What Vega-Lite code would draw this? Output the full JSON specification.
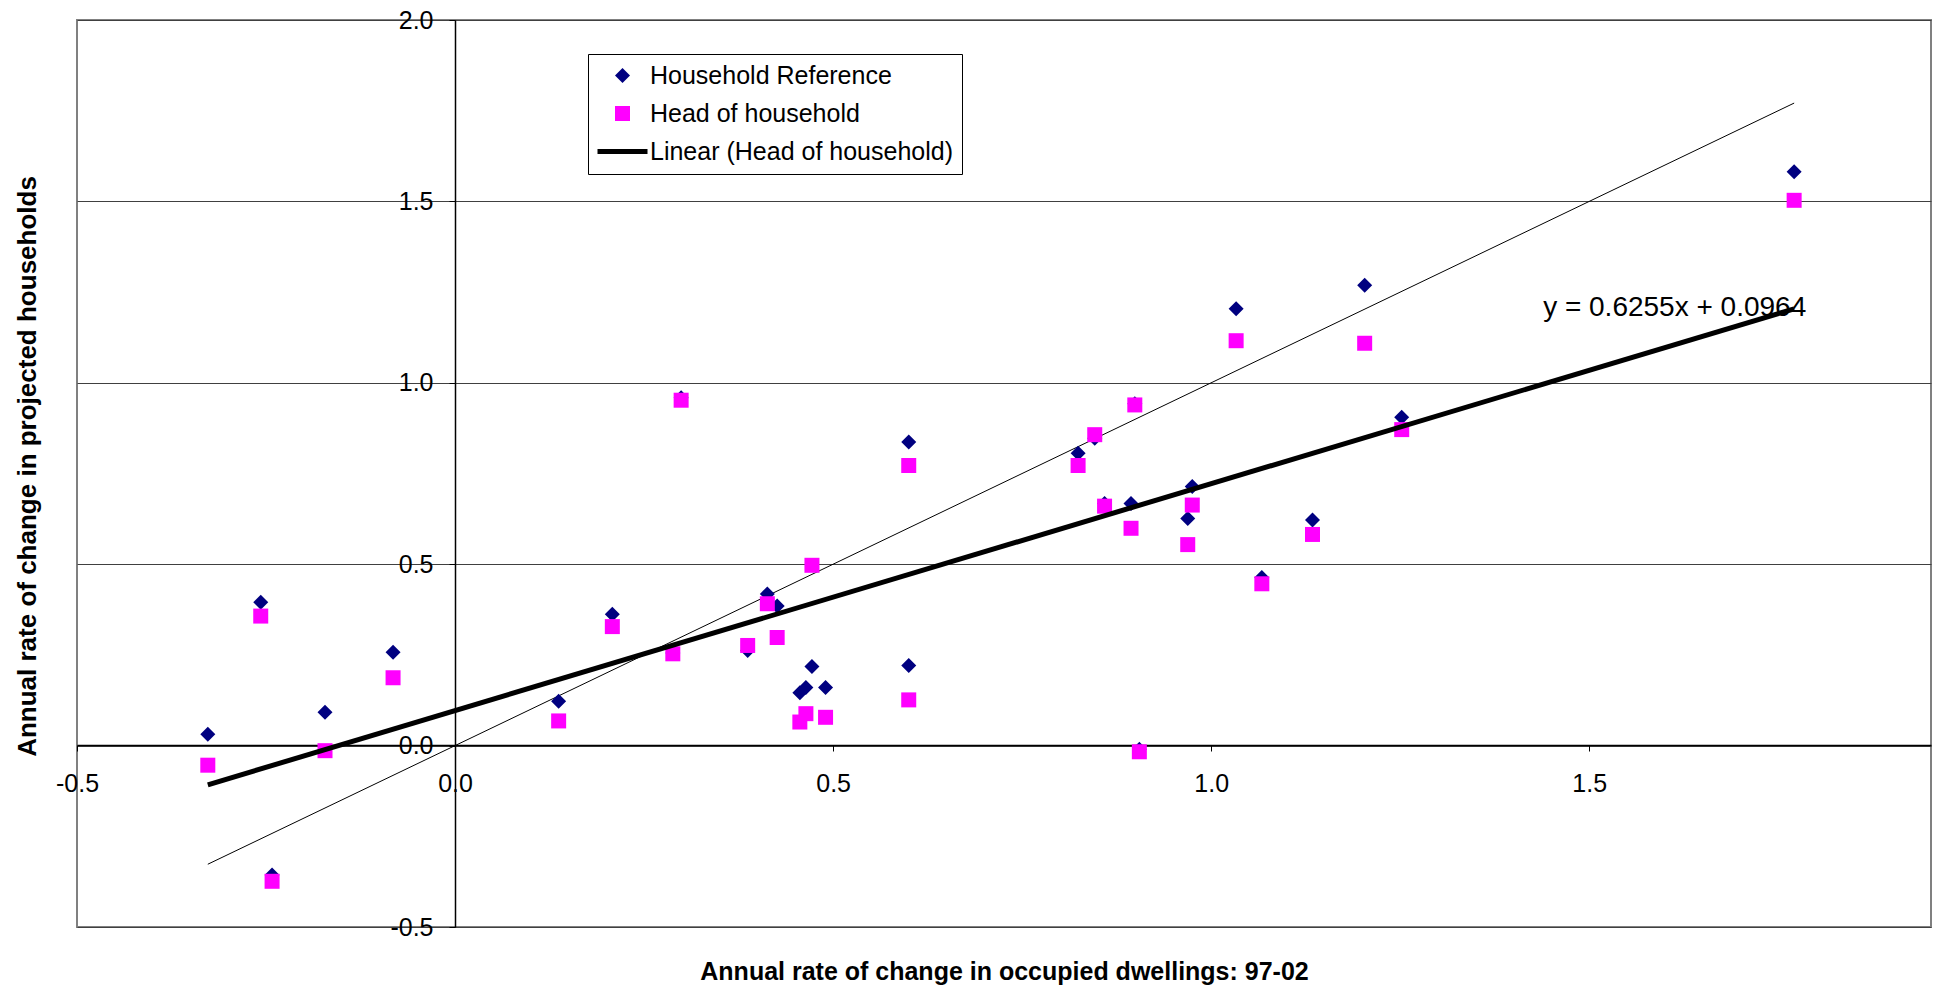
{
  "$schema": "https://vega.github.io/schema/vega-lite/v6.json",
  "width": 1854,
  "height": 907,
  "autosize": {"type": "none"},
  "padding": {"left": 77, "top": 20, "right": 8, "bottom": 62},
  "background": "white",
  "config": {
    "font": "Liberation Sans",
    "locale": {"number": {"decimal": ".", "thousands": ",", "grouping": [3], "currency": ["$", ""], "minus": "-"}},
    "view": {"stroke": "#808080", "strokeWidth": 2},
    "axis": {
      "labelFont": "Liberation Sans",
      "titleFont": "Liberation Sans",
      "labelColor": "black",
      "titleColor": "black",
      "domainColor": "black",
      "tickColor": "black"
    }
  },
  "datasets": {
    "points": [
      {"x": -0.327, "y": 0.031, "series": "Household Reference"},
      {"x": -0.257, "y": 0.395, "series": "Household Reference"},
      {"x": -0.242, "y": -0.357, "series": "Household Reference"},
      {"x": -0.172, "y": 0.092, "series": "Household Reference"},
      {"x": -0.082, "y": 0.257, "series": "Household Reference"},
      {"x": 0.137, "y": 0.122, "series": "Household Reference"},
      {"x": 0.208, "y": 0.362, "series": "Household Reference"},
      {"x": 0.288, "y": 0.255, "series": "Household Reference"},
      {"x": 0.299, "y": 0.959, "series": "Household Reference"},
      {"x": 0.387, "y": 0.262, "series": "Household Reference"},
      {"x": 0.413, "y": 0.418, "series": "Household Reference"},
      {"x": 0.426, "y": 0.385, "series": "Household Reference"},
      {"x": 0.456, "y": 0.146, "series": "Household Reference"},
      {"x": 0.464, "y": 0.160, "series": "Household Reference"},
      {"x": 0.472, "y": 0.218, "series": "Household Reference"},
      {"x": 0.490, "y": 0.160, "series": "Household Reference"},
      {"x": 0.600, "y": 0.837, "series": "Household Reference"},
      {"x": 0.600, "y": 0.221, "series": "Household Reference"},
      {"x": 0.824, "y": 0.806, "series": "Household Reference"},
      {"x": 0.846, "y": 0.847, "series": "Household Reference"},
      {"x": 0.859, "y": 0.667, "series": "Household Reference"},
      {"x": 0.894, "y": 0.667, "series": "Household Reference"},
      {"x": 0.899, "y": 0.942, "series": "Household Reference"},
      {"x": 0.905, "y": -0.010, "series": "Household Reference"},
      {"x": 0.969, "y": 0.626, "series": "Household Reference"},
      {"x": 0.975, "y": 0.714, "series": "Household Reference"},
      {"x": 1.033, "y": 1.204, "series": "Household Reference"},
      {"x": 1.067, "y": 0.463, "series": "Household Reference"},
      {"x": 1.134, "y": 0.622, "series": "Household Reference"},
      {"x": 1.203, "y": 1.269, "series": "Household Reference"},
      {"x": 1.252, "y": 0.905, "series": "Household Reference"},
      {"x": 1.771, "y": 1.582, "series": "Household Reference"},
      {"x": -0.327, "y": -0.054, "series": "Head of household"},
      {"x": -0.257, "y": 0.357, "series": "Head of household"},
      {"x": -0.242, "y": -0.374, "series": "Head of household"},
      {"x": -0.172, "y": -0.014, "series": "Head of household"},
      {"x": -0.082, "y": 0.187, "series": "Head of household"},
      {"x": 0.137, "y": 0.068, "series": "Head of household"},
      {"x": 0.208, "y": 0.328, "series": "Head of household"},
      {"x": 0.288, "y": 0.253, "series": "Head of household"},
      {"x": 0.299, "y": 0.952, "series": "Head of household"},
      {"x": 0.387, "y": 0.276, "series": "Head of household"},
      {"x": 0.413, "y": 0.391, "series": "Head of household"},
      {"x": 0.426, "y": 0.298, "series": "Head of household"},
      {"x": 0.456, "y": 0.065, "series": "Head of household"},
      {"x": 0.464, "y": 0.088, "series": "Head of household"},
      {"x": 0.472, "y": 0.497, "series": "Head of household"},
      {"x": 0.490, "y": 0.078, "series": "Head of household"},
      {"x": 0.600, "y": 0.772, "series": "Head of household"},
      {"x": 0.600, "y": 0.126, "series": "Head of household"},
      {"x": 0.824, "y": 0.772, "series": "Head of household"},
      {"x": 0.846, "y": 0.857, "series": "Head of household"},
      {"x": 0.859, "y": 0.660, "series": "Head of household"},
      {"x": 0.894, "y": 0.599, "series": "Head of household"},
      {"x": 0.899, "y": 0.939, "series": "Head of household"},
      {"x": 0.905, "y": -0.017, "series": "Head of household"},
      {"x": 0.969, "y": 0.554, "series": "Head of household"},
      {"x": 0.975, "y": 0.663, "series": "Head of household"},
      {"x": 1.033, "y": 1.116, "series": "Head of household"},
      {"x": 1.067, "y": 0.446, "series": "Head of household"},
      {"x": 1.134, "y": 0.582, "series": "Head of household"},
      {"x": 1.203, "y": 1.109, "series": "Head of household"},
      {"x": 1.252, "y": 0.871, "series": "Head of household"},
      {"x": 1.771, "y": 1.503, "series": "Head of household"}
    ],
    "trend": [
      {"x": -0.327, "y": -0.108, "series": "Linear (Head of household)"},
      {"x": 1.771, "y": 1.204, "series": "Linear (Head of household)"}
    ],
    "diag": [
      {"x": -0.327, "y": -0.327},
      {"x": 1.771, "y": 1.771}
    ],
    "eq": [
      {"x": 1.787, "y": 1.205, "label": "y = 0.6255x + 0.0964"}
    ]
  },
  "encoding": {
    "x": {
      "field": "x",
      "type": "quantitative",
      "scale": {"domain": [-0.5, 1.952], "nice": false, "zero": false},
      "axis": {
        "title": "Annual rate of change in occupied dwellings:  97-02",
        "offset": -182,
        "values": [-0.5, 0, 0.5, 1, 1.5],
        "format": ".1f",
        "labelFontSize": 25,
        "labelPadding": 20,
        "labelFlush": false,
        "labelOverlap": false,
        "labelBound": false,
        "tickSize": 6,
        "domainWidth": 1.5,
        "grid": false,
        "titleFontSize": 25,
        "titleFontWeight": "bold",
        "titleX": 927,
        "titleY": 234,
        "titleAlign": "center",
        "titleBaseline": "alphabetic"
      }
    },
    "y": {
      "field": "y",
      "type": "quantitative",
      "scale": {"domain": [-0.5, 2.0], "nice": false, "zero": false},
      "axis": {
        "title": "Annual rate of change in projected households",
        "offset": -378,
        "values": [-0.5, 0, 0.5, 1, 1.5, 2],
        "format": ".1f",
        "labelFontSize": 25,
        "labelPadding": 16,
        "labelFlush": false,
        "labelOverlap": false,
        "labelBound": false,
        "tickSize": 6,
        "domainWidth": 1.5,
        "grid": true,
        "gridColor": "#404040",
        "gridWidth": 1,
        "titleFontSize": 26,
        "titleFontWeight": "bold",
        "titleX": -420,
        "titleY": 446,
        "titleAngle": -90,
        "titleAlign": "center",
        "titleBaseline": "alphabetic"
      }
    }
  },
  "layer": [
    {
      "data": {"name": "diag"},
      "mark": {"type": "line", "color": "black", "strokeWidth": 1},
      "encoding": {}
    },
    {
      "data": {"name": "points"},
      "mark": {"type": "point", "filled": true, "opacity": 1},
      "encoding": {
        "color": {
          "field": "series",
          "type": "nominal",
          "scale": {
            "domain": ["Household Reference", "Head of household", "Linear (Head of household)"],
            "range": ["#000080", "#FF00FF", "#000000"]
          },
          "legend": {
            "title": null,
            "orient": "none",
            "legendX": 511,
            "legendY": 34,
            "columns": 1,
            "clipHeight": 25,
            "labelFontSize": 25,
            "labelFont": "Liberation Sans",
            "labelColor": "black",
            "labelLimit": 600,
            "strokeColor": "black",
            "fillColor": "white",
            "padding": 9,
            "rowPadding": 12,
            "symbolOffset": -2,
            "labelOffset": 0
          }
        },
        "shape": {
          "field": "series",
          "type": "nominal",
          "scale": {
            "domain": ["Household Reference", "Head of household", "Linear (Head of household)"],
            "range": ["diamond", "square", "stroke"]
          },
          "legend": {"title": null, "orient": "none", "legendX": 511, "legendY": 34}
        },
        "size": {
          "field": "series",
          "type": "nominal",
          "scale": {
            "type": "ordinal",
            "domain": ["Household Reference", "Head of household", "Linear (Head of household)"],
            "range": [225, 225, 2500]
          },
          "legend": {"title": null, "orient": "none", "legendX": 511, "legendY": 34}
        },
        "strokeWidth": {
          "field": "series",
          "type": "nominal",
          "scale": {
            "type": "ordinal",
            "domain": ["Household Reference", "Head of household", "Linear (Head of household)"],
            "range": [0, 0, 5]
          },
          "legend": {"title": null, "orient": "none", "legendX": 511, "legendY": 34}
        }
      }
    },
    {
      "data": {"name": "trend"},
      "mark": {"type": "line", "strokeWidth": 5},
      "encoding": {
        "color": {
          "field": "series",
          "type": "nominal",
          "scale": {
            "domain": ["Household Reference", "Head of household", "Linear (Head of household)"],
            "range": ["#000080", "#FF00FF", "#000000"]
          }
        }
      }
    },
    {
      "data": {"name": "eq"},
      "mark": {"type": "text", "align": "right", "baseline": "middle", "fontSize": 28, "color": "black", "font": "Liberation Sans"},
      "encoding": {"text": {"field": "label", "type": "nominal"}}
    }
  ]
}
